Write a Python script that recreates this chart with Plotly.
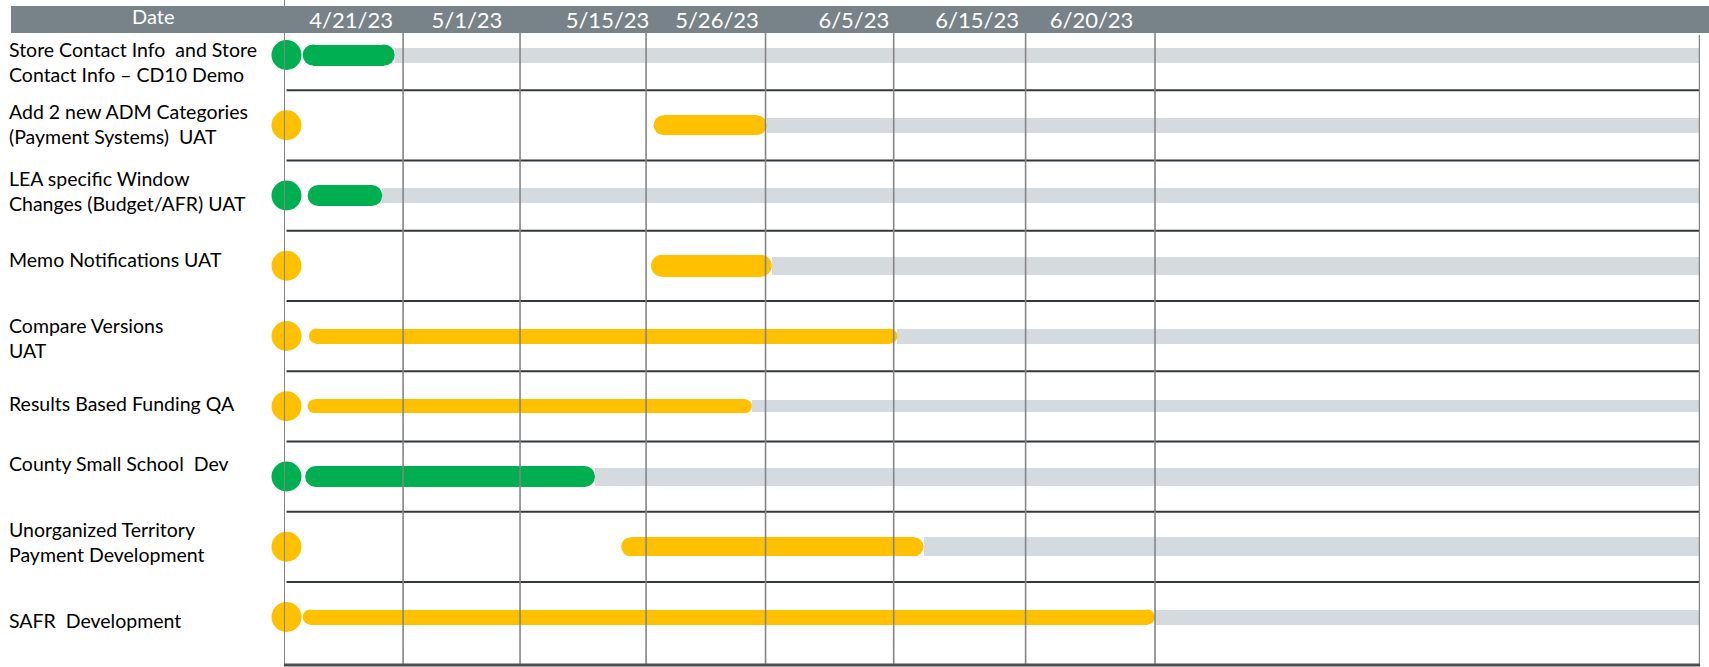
import plotly.graph_objects as go

# ---------------- data ----------------
tasks = [
    "Store Contact Info  and Store<br>Contact Info – CD10 Demo",
    "Add 2 new ADM Categories<br>(Payment Systems)  UAT",
    "LEA specific Window<br>Changes (Budget/AFR) UAT",
    "Memo Notifications UAT",
    "Compare Versions<br>UAT",
    "Results Based Funding QA",
    "County Small School  Dev",
    "Unorganized Territory<br>Payment Development",
    "SAFR  Development",
]
status = ["green", "yellow", "green", "yellow", "yellow", "yellow", "green", "yellow", "yellow"]
# task start / end in timeline-column units (column boundaries = date columns)
task_start = [0.15, 2.97, 0.19, 2.95, 0.20, 0.19, 0.17, 2.71, 0.15]
task_end = [0.89, 3.88, 0.79, 3.92, 4.93, 3.76, 2.50, 5.14, 7.00]
timeline_end = 11.38
date_labels = ["4/21/23", "5/1/23", "5/15/23", "5/26/23", "6/5/23", "6/15/23", "6/20/23"]

# ---------------- layout / style ----------------
W, H = 1709, 667
label_pos = [0.54, 1.47, 2.60, 3.48, 4.58, 5.57, 6.49]
grid_pos = [0.957, 1.897, 2.91, 3.87, 4.9, 5.96, 7.0]
label_yshift = [-7, 1, 5, 6, -2, 3, 13, 5, -3]
X0_PX, X1_PX = 284, 1700
HEADER_TOP, HEADER_BOT = 6, 33
PX_PER_X = (X1_PX - X0_PX) / timeline_end
ROW0_PX, PX_PER_ROW = 55, 70.25
y_top = (HEADER_BOT - ROW0_PX) / PX_PER_ROW
y_bot = (H - ROW0_PX) / PX_PER_ROW
bar_px = [21, 20, 21, 22, 15, 14, 21, 19, 15]
gray_px = [15, 15, 15, 18, 15, 12, 18, 19, 15]
COL = {"green": "#00B050", "yellow": "#FFC000"}
GRAY_BAR = "#D5DADE"
HEADER = "#778389"
GRID = "#858585"
SEP = "#33383c"
FONT = "Lato"

rows = list(range(len(tasks)))
colors = [COL[s] for s in status]
r_x = [b / 2 / PX_PER_X for b in bar_px]

fig = go.Figure()
# remaining (gray) bars
fig.add_trace(go.Bar(
    orientation="h", y=rows,
    x=[timeline_end - e for e in task_end], base=task_end,
    width=[g / PX_PER_ROW for g in gray_px],
    marker=dict(color=GRAY_BAR, line=dict(width=0)),
    hoverinfo="skip", showlegend=False,
))
# progress bars (body)
fig.add_trace(go.Bar(
    orientation="h", y=rows,
    x=[(e - r) - (s + r) for s, e, r in zip(task_start, task_end, r_x)],
    base=[s + r for s, r in zip(task_start, r_x)],
    width=[b / PX_PER_ROW for b in bar_px],
    marker=dict(color=colors, line=dict(width=0)),
    hoverinfo="skip", showlegend=False,
))
# rounded caps
cap_x, cap_y, cap_c, cap_s = [], [], [], []
for i in rows:
    for xx in (task_start[i] + r_x[i], task_end[i] - r_x[i]):
        cap_x.append(xx); cap_y.append(i); cap_c.append(colors[i]); cap_s.append(bar_px[i])
fig.add_trace(go.Scatter(
    x=cap_x, y=cap_y, mode="markers", cliponaxis=False,
    marker=dict(color=cap_c, size=cap_s, opacity=1, line=dict(width=0)),
    hoverinfo="skip", showlegend=False,
))
# status dots
fig.add_trace(go.Scatter(
    x=[0.02] * len(rows), y=rows, mode="markers", cliponaxis=False,
    marker=dict(color=colors, size=30, opacity=1, line=dict(width=0)),
    hoverinfo="skip", showlegend=False,
))

shapes = []
bot_paper = 2 / H
hdr_bot_paper = 1 - HEADER_BOT / H
hdr_top_paper = 1 - HEADER_TOP / H
# header band (below so the date tick labels show on top)
shapes.append(dict(type="rect", xref="paper", yref="paper", x0=11 / W, x1=1,
                   y0=hdr_bot_paper, y1=hdr_top_paper, fillcolor=HEADER,
                   line=dict(width=0), layer="below"))
# row separators
for i in rows[:-1]:
    shapes.append(dict(type="line", xref="x", yref="y", x0=0.02, x1=timeline_end,
                       y0=i + 0.5, y1=i + 0.5, line=dict(color=SEP, width=2), layer="above"))
# vertical grid
for g in grid_pos:
    shapes.append(dict(type="line", xref="x", yref="paper", x0=g, x1=g,
                       y0=bot_paper, y1=hdr_bot_paper, line=dict(color=GRID, width=1.6), layer="above"))
# right edge
shapes.append(dict(type="line", xref="x", yref="paper", x0=timeline_end, x1=timeline_end,
                   y0=bot_paper, y1=1 - 35 / H, line=dict(color=GRID, width=2.5), layer="above"))
# left axis (interrupted by the header band)
shapes.append(dict(type="line", xref="x", yref="paper", x0=0, x1=0,
                   y0=bot_paper, y1=hdr_bot_paper, line=dict(color=GRID, width=2), layer="above"))
shapes.append(dict(type="line", xref="x", yref="paper", x0=0, x1=0,
                   y0=hdr_top_paper, y1=1, line=dict(color=GRID, width=2), layer="above"))
# bottom line
shapes.append(dict(type="line", xref="x", yref="paper", x0=-0.01, x1=timeline_end + 0.01,
                   y0=bot_paper, y1=bot_paper, line=dict(color="#4a4f53", width=3), layer="above"))

annotations = [dict(
    text="Date", xref="paper", yref="paper", x=153 / W, y=1 - 16 / H,
    xanchor="center", yanchor="middle", showarrow=False,
    font=dict(family=FONT, size=20, color="white"),
)]
for i, t in zip(rows, tasks):
    annotations.append(dict(
        text=t, xref="paper", yref="y", x=7 / W, y=i, xanchor="left", yanchor="middle",
        yshift=label_yshift[i],
        align="left", showarrow=False, font=dict(family=FONT, size=19.5, color="black"),
    ))

fig.update_layout(
    width=W, height=H, margin=dict(l=0, r=0, t=0, b=0),
    paper_bgcolor="white", plot_bgcolor="white",
    barmode="overlay", bargap=0,
    shapes=shapes, annotations=annotations,
    xaxis=dict(domain=[X0_PX / W, X1_PX / W], range=[0, timeline_end], side="top",
               tickmode="array", tickvals=label_pos, ticktext=date_labels,
               tickfont=dict(family=FONT, size=22, color="white"),
               showgrid=False, zeroline=False, showline=False, ticks=""),
    yaxis=dict(domain=[0, hdr_bot_paper], range=[y_bot, y_top],
               showticklabels=False, showgrid=False, zeroline=False, showline=False, ticks=""),
)

fig.write_html("out.html", config={"displayModeBar": False},
               post_script="document.body.style.margin='0px';")
